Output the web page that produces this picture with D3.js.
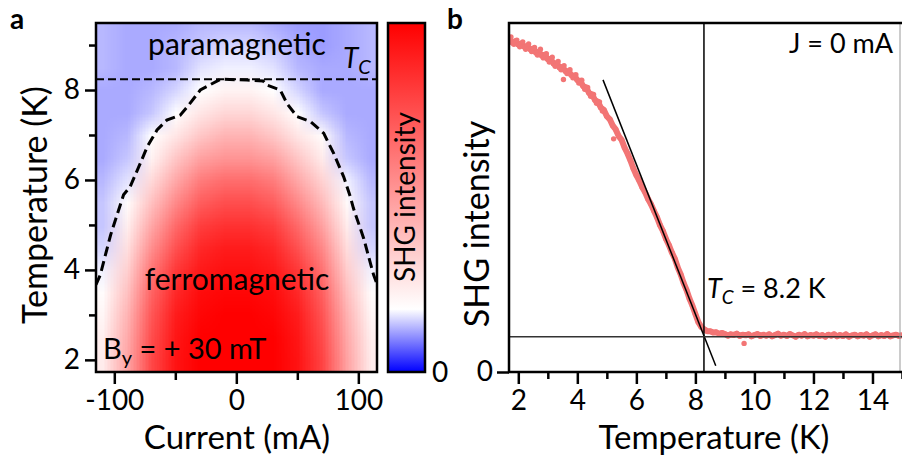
<!DOCTYPE html>
<meta charset="utf-8">
<head>
  <script src="https://cdn.jsdelivr.net/npm/d3@7"></script>
  <style>
    body { margin: 0; background: #fff; }
    svg text { font-family: Lato, "Open Sans", sans-serif; fill: #000; }
    .tick line { stroke: #000; stroke-width: 2.5; }
  </style>
</head>
<body>
<svg id="fig" width="902" height="462"></svg>
<script>

// ---------- panel a : SHG map vs current and temperature ----------
var gridCurrent = [-110, -90, -70, -50, -30, -10, 10, 30, 50, 70, 90, 110];
var gridTemp = [9.5, 9.0, 8.5, 8.0, 7.5, 7.0, 6.5, 6.0, 5.5, 5.0, 4.5, 4.0, 3.5, 3.0, 2.5, 2.0, 1.5];
var gridValue = [
  [0.13,0.12,0.12,0.12,0.13,0.13,0.13,0.12,0.11,0.11,0.12,0.13],
  [0.13,0.12,0.12,0.13,0.14,0.15,0.15,0.14,0.12,0.11,0.12,0.13],
  [0.13,0.12,0.12,0.13,0.16,0.17,0.17,0.16,0.13,0.12,0.12,0.13],
  [0.12,0.12,0.13,0.15,0.18,0.22,0.22,0.18,0.15,0.12,0.12,0.12],
  [0.12,0.12,0.14,0.18,0.26,0.31,0.31,0.26,0.18,0.14,0.12,0.12],
  [0.12,0.13,0.18,0.26,0.36,0.42,0.42,0.36,0.26,0.19,0.13,0.12],
  [0.12,0.14,0.22,0.36,0.48,0.52,0.52,0.48,0.36,0.24,0.14,0.12],
  [0.13,0.16,0.30,0.46,0.60,0.65,0.65,0.60,0.46,0.32,0.17,0.13],
  [0.14,0.19,0.38,0.56,0.70,0.75,0.75,0.70,0.56,0.40,0.20,0.14],
  [0.14,0.23,0.46,0.66,0.80,0.84,0.84,0.80,0.66,0.48,0.24,0.14],
  [0.15,0.28,0.54,0.74,0.87,0.91,0.91,0.87,0.74,0.56,0.29,0.15],
  [0.17,0.33,0.62,0.82,0.92,0.95,0.95,0.92,0.82,0.63,0.34,0.17],
  [0.19,0.38,0.68,0.87,0.96,0.98,0.98,0.96,0.87,0.69,0.39,0.19],
  [0.21,0.42,0.72,0.91,0.98,1.00,1.00,0.98,0.91,0.73,0.43,0.21],
  [0.23,0.45,0.75,0.93,1.00,1.00,1.00,1.00,0.93,0.76,0.46,0.23],
  [0.24,0.47,0.77,0.94,1.00,1.00,1.00,1.00,0.94,0.78,0.48,0.24],
  [0.24,0.47,0.77,0.94,1.00,1.00,1.00,1.00,0.94,0.78,0.48,0.24]
];
// dashed phase boundary Tc(I)
var contourCurrent = [-115, -111.5, -103, -92.4, -87, -78.7, -73, -65, -57, -46, -40, -29.5, -13, 8.7, 22, 25, 36, 41.5, 49.7, 60.7, 71.6, 79.8, 88, 93.4, 96, 104.4, 112.5, 115.5];
var contourTemp    = [3.67, 3.89, 4.78, 5.67, 5.85, 6.37, 6.74, 7.11, 7.33, 7.44, 7.63, 8.0, 8.24, 8.22, 8.2, 8.11, 8.0, 7.7, 7.41, 7.3, 7.04, 6.59, 6.07, 5.63, 5.37, 4.7, 3.89, 3.67];
var tcMap = 8.24;
var currentTicks = [-100, 0, 100];
var currentMinor = [-50, 50];
var tempTicksA = [2, 4, 6, 8];
var tempMinorA = [3, 5, 7, 9];

// ---------- panel b : SHG intensity vs temperature, J = 0 ----------
var shgTemp = [1.7,1.8,1.9,2.0,2.1,2.2,2.3,2.4,2.5,2.6,2.7,2.8,2.9,3.0,3.1,3.2,3.3,3.4,3.5,3.6,3.7,3.8,3.9,
  4.0,4.1,4.2,4.3,4.4,4.5,4.6,4.7,4.8,4.9,5.0,5.1,5.2,5.3,5.4,5.5,5.6,5.7,5.8,5.9,
  6.0,6.1,6.2,6.3,6.4,6.5,6.6,6.7,6.8,6.9,7.0,7.1,7.2,7.3,7.4,7.5,7.6,7.7,7.8,7.9,
  8.0,8.1,8.2,8.3,8.4,8.5,8.6,8.7,8.8,8.9,
  9.0,9.1,9.2,9.3,9.4,9.5,9.6,9.7,9.8,9.9,10.0,10.1,10.2,10.3,10.4,10.5,10.6,10.7,10.8,10.9,
  11.0,11.1,11.2,11.3,11.4,11.5,11.6,11.7,11.8,11.9,12.0,12.1,12.2,12.3,12.4,12.5,12.6,12.7,12.8,12.9,
  13.0,13.1,13.2,13.3,13.4,13.5,13.6,13.7,13.8,13.9,14.0,14.1,14.2,14.3,14.4,14.5,14.6,14.7,14.8,14.9,15.0];
var shgValue = [0.952,0.944,0.948,0.938,0.941,0.932,0.934,0.925,0.926,0.915,0.918,0.906,0.909,0.896,0.897,0.883,0.885,0.872,0.874,0.862,0.862,0.850,0.849,
  0.836,0.834,0.819,0.815,0.799,0.795,0.779,0.774,0.757,0.751,0.733,0.724,0.706,0.695,0.676,0.665,0.643,0.626,0.606,0.583,
  0.564,0.548,0.529,0.514,0.495,0.480,0.461,0.443,0.421,0.404,0.382,0.364,0.343,0.325,0.300,0.280,0.255,0.235,0.210,0.190,
  0.166,0.143,0.129,0.122,0.117,0.117,0.113,0.114,0.110,0.112,
  0.109,0.104,0.108,0.106,0.110,0.103,0.107,0.105,0.108,0.102,0.106,0.109,0.103,0.107,0.104,0.108,0.102,0.106,0.110,0.104,
  0.107,0.103,0.109,0.105,0.101,0.107,0.104,0.109,0.102,0.106,0.104,0.108,0.103,0.106,0.101,0.107,0.104,0.108,0.102,0.106,
  0.103,0.108,0.101,0.105,0.107,0.102,0.106,0.104,0.108,0.101,0.105,0.108,0.102,0.106,0.103,0.109,0.102,0.105,0.107,0.103,0.106];
// extra scattered points in the noisy low-temperature part
var extraTemp = [1.75,1.85,1.95,2.05,2.15,2.25,2.35,2.45,2.55,2.65,2.75,2.85,2.95,3.05,3.15,3.25,3.35,3.45,3.55,3.65,3.75,3.85,3.95,4.05,4.15,4.25,4.35,4.45,4.55,4.65,4.75,4.85,3.53,5.23,9.65];
var extraValue = [0.960,0.939,0.951,0.932,0.946,0.925,0.940,0.918,0.930,0.908,0.925,0.900,0.912,0.888,0.902,0.876,0.890,0.866,0.878,0.855,0.866,0.843,0.852,0.828,0.836,0.810,0.815,0.790,0.795,0.770,0.774,0.748,0.838,0.668,0.082];
var fitTemp = [4.87, 8.69];
var fitValue = [0.837, 0.018];
var tcTemp = 8.29;
var baseValue = 0.101;
var tempTicksB = [2, 4, 6, 8, 10, 12, 14];
var tempMinorB = [3, 5, 7, 9, 11, 13, 15];

var svg = d3.select("#fig");
var dotColor = "#f27575";

// ================= panel a =================
var xA = d3.scaleLinear().domain([-115, 115.3]).range([96, 377]);
var yA = d3.scaleLinear().domain([1.73, 9.49]).range([372, 23]);
var color = d3.scaleLinear().domain([0, 0.18, 1]).range(["#0000ff", "#ffffff", "#ff0000"]);

svg.append("defs").append("clipPath").attr("id", "clipA")
  .append("rect").attr("x", 96).attr("y", 23).attr("width", 281).attr("height", 349);

// build a small image of the grid, let the browser smooth it when scaled up
var cv = document.createElement("canvas");
cv.width = gridCurrent.length; cv.height = gridTemp.length;
var ctx = cv.getContext("2d");
gridValue.forEach(function(row, j) {
  row.forEach(function(v, i) {
    ctx.fillStyle = color(v);
    ctx.fillRect(i, j, 1, 1);
  });
});
var dI = gridCurrent[1] - gridCurrent[0], dT = gridTemp[0] - gridTemp[1];
var i0 = gridCurrent[0] - dI / 2, i1 = gridCurrent[gridCurrent.length - 1] + dI / 2;
var t0 = gridTemp[0] + dT / 2, t1 = gridTemp[gridTemp.length - 1] - dT / 2;
svg.append("image")
  .attr("href", cv.toDataURL())
  .attr("x", xA(i0)).attr("y", yA(t0))
  .attr("width", xA(i1) - xA(i0)).attr("height", yA(t1) - yA(t0))
  .attr("preserveAspectRatio", "none")
  .attr("clip-path", "url(#clipA)");

// Tc dashed line and boundary
svg.append("line")
  .attr("x1", xA(-115)).attr("x2", xA(115.3))
  .attr("y1", yA(tcMap)).attr("y2", yA(tcMap))
  .attr("stroke", "#000").attr("stroke-width", 2).attr("stroke-dasharray", "8,4");

var contour = d3.line()
  .x(function(d, i) { return xA(contourCurrent[i]); })
  .y(function(d, i) { return yA(contourTemp[i]); });
svg.append("path")
  .attr("d", contour(contourCurrent))
  .attr("clip-path", "url(#clipA)")
  .attr("fill", "none").attr("stroke", "#000").attr("stroke-width", 3)
  .attr("stroke-dasharray", "10,5");

// axes a
var gxa = svg.append("g").attr("transform", "translate(0,372)")
  .call(d3.axisBottom(xA).tickValues(currentTicks).tickSize(12).tickFormat(function(d) { return d; }));
gxa.selectAll("text").attr("y", 38).attr("dy", 0).style("font-size", "28px");
svg.append("g").attr("transform", "translate(0,372)")
  .call(d3.axisBottom(xA).tickValues(currentMinor).tickSize(8).tickFormat(""));

var gya = svg.append("g").attr("transform", "translate(96,0)")
  .call(d3.axisLeft(yA).tickValues(tempTicksA).tickSize(11));
gya.selectAll("text").attr("x", -16).style("font-size", "28px");
svg.append("g").attr("transform", "translate(96,0)")
  .call(d3.axisLeft(yA).tickValues(tempMinorA).tickSize(7).tickFormat(""));
svg.selectAll(".domain").remove();

svg.append("rect").attr("x", 96).attr("y", 23).attr("width", 281).attr("height", 349)
  .attr("fill", "none").attr("stroke", "#000").attr("stroke-width", 2.5);

// colorbar
var cb = d3.scaleLinear().domain([0, 1]).range([372, 23]);
var grad = svg.select("defs").append("linearGradient").attr("id", "cbGrad")
  .attr("x1", 0).attr("x2", 0).attr("y1", 1).attr("y2", 0);
color.domain().forEach(function(v) {
  grad.append("stop").attr("offset", v).attr("stop-color", color(v));
});
svg.append("rect").attr("x", 388).attr("y", cb(1)).attr("width", 37).attr("height", cb(0) - cb(1))
  .attr("fill", "url(#cbGrad)").attr("stroke", "#000").attr("stroke-width", 2.5);
svg.append("text").attr("x", 432).attr("y", 382).style("font-size", "28px").text("0");
svg.append("text").attr("transform", "translate(415,197) rotate(-90)")
  .attr("text-anchor", "middle").style("font-size", "28px").text("SHG intensity");

// labels a
svg.append("text").attr("x", 10).attr("y", 29).style("font-size", "28px").style("font-weight", "bold").text("a");
svg.append("text").attr("x", 237).attr("y", 55).attr("text-anchor", "middle").style("font-size", "30px").text("paramagnetic");
svg.append("text").attr("x", 237).attr("y", 290).attr("text-anchor", "middle").style("font-size", "30px").text("ferromagnetic");
var tcA = svg.append("text").attr("x", 343).attr("y", 68).style("font-size", "28px").style("font-style", "italic");
tcA.append("tspan").text("T");
tcA.append("tspan").attr("dy", 6).style("font-size", "20px").text("C");
var bA = svg.append("text").attr("x", 103).attr("y", 359).style("font-size", "29px");
bA.append("tspan").text("B");
bA.append("tspan").attr("dy", 6).style("font-size", "20px").text("y");
bA.append("tspan").attr("dy", -6).text(" = + 30 mT");
svg.append("text").attr("x", 237).attr("y", 449).attr("text-anchor", "middle").style("font-size", "33px").text("Current (mA)");
svg.append("text").attr("transform", "translate(47,205) rotate(-90)")
  .attr("text-anchor", "middle").style("font-size", "34px").text("Temperature (K)");

// ================= panel b =================
var xB = d3.scaleLinear().domain([1.685, 15]).range([509, 902]);
var yB = d3.scaleLinear().domain([0, 1]).range([372, 23]);

svg.select("defs").append("clipPath").attr("id", "clipB")
  .append("rect").attr("x", 509).attr("y", 23).attr("width", 393).attr("height", 349);

var gB = svg.append("g").attr("clip-path", "url(#clipB)");
var band = d3.line()
  .x(function(d, i) { return xB(shgTemp[i]); })
  .y(function(d, i) { return yB(shgValue[i]); });
gB.append("path").attr("d", band(shgTemp))
  .attr("fill", "none").attr("stroke", dotColor).attr("stroke-width", 6)
  .attr("stroke-linejoin", "round");
gB.selectAll("circle.m").data(shgTemp).enter().append("circle")
  .attr("cx", function(d) { return xB(d); })
  .attr("cy", function(d, i) { return yB(shgValue[i]); })
  .attr("r", 2.7).attr("fill", dotColor);
gB.selectAll("circle.e").data(extraTemp).enter().append("circle")
  .attr("cx", function(d) { return xB(d); })
  .attr("cy", function(d, i) { return yB(extraValue[i]); })
  .attr("r", 2.7).attr("fill", dotColor);

gB.append("line").attr("x1", xB(fitTemp[0])).attr("x2", xB(fitTemp[1]))
  .attr("y1", yB(fitValue[0])).attr("y2", yB(fitValue[1]))
  .attr("stroke", "#000").attr("stroke-width", 1.5);
gB.append("line").attr("x1", xB(tcTemp)).attr("x2", xB(tcTemp))
  .attr("y1", yB(1)).attr("y2", yB(0))
  .attr("stroke", "#000").attr("stroke-width", 1.5);
gB.append("line").attr("x1", 509).attr("x2", 902)
  .attr("y1", yB(baseValue)).attr("y2", yB(baseValue))
  .attr("stroke", "#333").attr("stroke-width", 1.5);

// axes b
var gxb = svg.append("g").attr("transform", "translate(0,372)")
  .call(d3.axisBottom(xB).tickValues(tempTicksB).tickSize(12));
gxb.selectAll("text").attr("y", 38).attr("dy", 0).style("font-size", "28px");
svg.append("g").attr("transform", "translate(0,372)")
  .call(d3.axisBottom(xB).tickValues(tempMinorB).tickSize(7).tickFormat(""));
var gyb = svg.append("g").attr("transform", "translate(509,0)")
  .call(d3.axisLeft(yB).tickValues([0]).tickSize(12).tickFormat(d3.format("d")));
gyb.selectAll("text").attr("x", -16).style("font-size", "28px");
svg.selectAll(".domain").remove();

svg.append("line").attr("x1", 900).attr("x2", 900).attr("y1", 23).attr("y2", 372)
  .attr("stroke", "#999").attr("stroke-width", 1);
svg.append("path").attr("d", "M902,23H509V372H902")
  .attr("fill", "none").attr("stroke", "#000").attr("stroke-width", 2.5);

// labels b
svg.append("text").attr("x", 447).attr("y", 29).style("font-size", "28px").style("font-weight", "bold").text("b");
svg.append("text").attr("x", 893).attr("y", 53).attr("text-anchor", "end").style("font-size", "27px").text("J = 0 mA");
var tcB = svg.append("text").attr("x", 707).attr("y", 298).style("font-size", "27px");
tcB.append("tspan").style("font-style", "italic").text("T");
tcB.append("tspan").attr("dy", 6).style("font-size", "19px").style("font-style", "italic").text("C");
tcB.append("tspan").attr("dy", -6).text(" = 8.2 K");
svg.append("text").attr("x", 714).attr("y", 449).attr("text-anchor", "middle").style("font-size", "33px").text("Temperature (K)");
svg.append("text").attr("transform", "translate(489,224) rotate(-90)")
  .attr("text-anchor", "middle").style("font-size", "34px").text("SHG intensity");

</script>
</body>
